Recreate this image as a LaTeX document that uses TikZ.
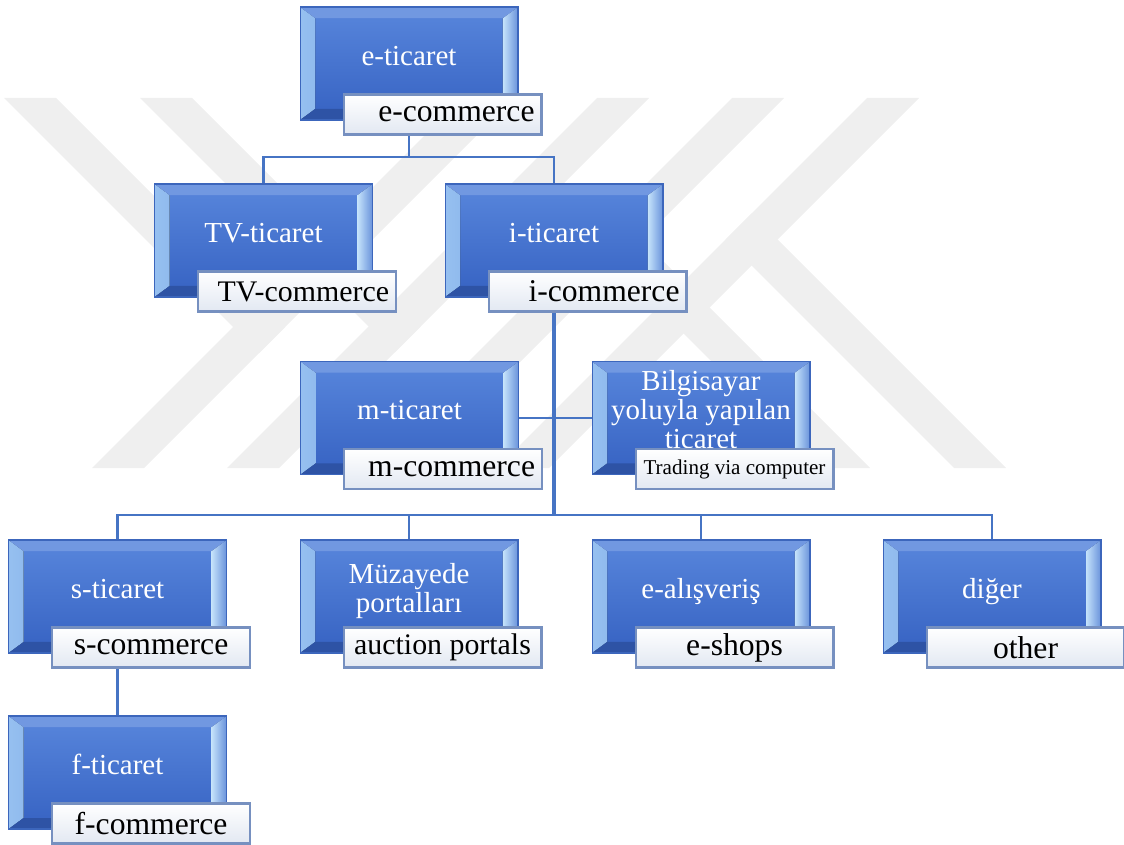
\documentclass[tikz,border=0pt]{standalone}
\usepackage{fontspec}
\setmainfont{Liberation Serif}
\usetikzlibrary{positioning,backgrounds}

\definecolor{faceblue}{RGB}{66,112,206}
\definecolor{facetop}{RGB}{88,134,220}
\definecolor{facebot}{RGB}{54,98,194}
\definecolor{bevlight}{RGB}{150,192,240}
\definecolor{bevright}{RGB}{196,226,250}
\definecolor{edgeblue}{RGB}{60,102,188}
\definecolor{tagedge}{RGB}{118,144,192}
\definecolor{tagbot}{RGB}{226,232,242}
\definecolor{connblue}{RGB}{70,116,196}
\definecolor{wmgray}{RGB}{239,239,239}

\newcommand{\boxfont}{\fontsize{16.5}{16.5}\selectfont}
\newcommand{\tagfont}{\fontsize{18}{20}\selectfont}
\newcommand{\smalltagfont}{\fontsize{17}{19}\selectfont}

\tikzset{tbox/.style = {rectangle, minimum width=4.36cm, minimum height=2.26cm, inner sep=0pt,
    top color=facetop, bottom color=facebot, draw=edgeblue, line width=0.6pt,
    text=white, font=\boxfont, text height=11pt, text depth=9pt,
    path picture={
      \fill[left color=bevlight, right color=faceblue]
        (path picture bounding box.south west) -- (path picture bounding box.north west)
        -- ([shift={(15,11)}]path picture bounding box.north west)
        -- ([shift={(15,-11)}]path picture bounding box.south west) -- cycle;
      \fill[left color=bevright, right color=faceblue!70!bevright]
        (path picture bounding box.south east) -- (path picture bounding box.north east)
        -- ([shift={(-15,11)}]path picture bounding box.north east)
        -- ([shift={(-15,-11)}]path picture bounding box.south east) -- cycle;
      \fill[facetop!85!white]
        (path picture bounding box.north west) -- (path picture bounding box.north east)
        -- ([shift={(-15,11)}]path picture bounding box.north east)
        -- ([shift={(15,11)}]path picture bounding box.north west) -- cycle;
      \fill[facebot!85!black]
        (path picture bounding box.south west) -- (path picture bounding box.south east)
        -- ([shift={(-15,-11)}]path picture bounding box.south east)
        -- ([shift={(15,-11)}]path picture bounding box.south west) -- cycle;
    }}}
\tikzset{tagbox/.style = {rectangle, minimum width=3.96cm, minimum height=0.8cm,
    inner xsep=0.14cm, inner ysep=0pt,
    top color=white, bottom color=tagbot, draw=tagedge, line width=1.2pt,
    font=\tagfont, text=black, anchor=north west}}
\tikzset{tagright/.style = {tagbox, text width=3.68cm, align=right}}
\tikzset{conn/.style = {draw=connblue, line width=1.4pt}}

\begin{document}
\begin{tikzpicture}[x=0.02cm, y=-0.02cm]
  \useasboundingbox (0,0) rectangle (1124,844);

  \node[tbox] (ec) at (409,63.5) {e-ticaret};
  \node[tagright] (ecl) at ([shift={(43,87)}]ec.north west) {e-commerce};

  \node[tbox] (tv) at (263.5,240.5) {TV-ticaret};
  \node[tagright, font=\smalltagfont] (tvl) at ([shift={(43,87)}]tv.north west) {TV-commerce};
  \node[tbox] (ic) at (554,240.5) {i-ticaret};
  \node[tagright] (icl) at ([shift={(43,87)}]ic.north west) {i-commerce};

  \node[tbox] (mc) at (409.5,418) {m-ticaret};
  \node[tagright] (mcl) at ([shift={(43,87)}]mc.north west) {m-commerce};
  \node[tbox, text height=11.5pt, text depth=43pt] (bc) at (701,418)
    {\begin{tabular}[t]{@{}c@{}}Bilgisayar\\yoluyla yapılan\\ticaret\end{tabular}};
  \node[tagbox, font=\fontsize{12}{14}\selectfont]
    (bcl) at ([shift={(43,87)}]bc.north west) {Trading via computer};

  \node[tbox] (sc) at (117.5,596.5) {s-ticaret};
  \node[tagbox] (scl) at ([shift={(43,87)}]sc.north west) {s-commerce};
  \node[tbox, text height=11.5pt, text depth=26pt] (mz) at (409,596.5)
    {\begin{tabular}[t]{@{}c@{}}Müzayede\\portalları\end{tabular}};
  \node[tagbox, font=\smalltagfont] (mzl) at ([shift={(43,87)}]mz.north west) {auction portals};
  \node[tbox] (es) at (701,596.5) {e-alışveriş};
  \node[tagbox] (esl) at ([shift={(43,87)}]es.north west) {e-shops};
  \node[tbox] (dg) at (992,596.5) {diğer};
  \node[tagbox] (dgl) at ([shift={(43,87)}]dg.north west) {other};

  \node[tbox] (fc) at (117.5,772.5) {f-ticaret};
  \node[tagbox] (fcl) at ([shift={(43,87)}]fc.north west) {f-commerce};

  \begin{scope}[on background layer]
    % watermark
    \fill[wmgray] (4,98) -- (56,98) -- (285,327) -- (259,353) -- cycle;
    \fill[wmgray] (140,98) -- (192,98) -- (420.5,326.5) -- (394.5,352.5) -- cycle;
    \fill[wmgray] (462,98) -- (514,98) -- (144,468) -- (92,468) -- cycle;
    \fill[wmgray] (597,98) -- (649,98) -- (279,468) -- (227,468) -- cycle;
    \fill[wmgray] (732,98) -- (784,98) -- (414,468) -- (362,468) -- cycle;
    \fill[wmgray] (867,98) -- (919,98) -- (549,468) -- (497,468) -- cycle;
    \fill[wmgray] (590,240) -- (616,214) -- (870,468) -- (818,468) -- cycle;
    \fill[wmgray] (725.5,239.5) -- (751.5,213.5) -- (1006,468) -- (954,468) -- cycle;

    \coordinate (jtop) at (409,157);
    \coordinate (jmid) at (554,515);
    \draw[conn] (ec.south) -- (jtop);
    \draw[conn] (tv.north) |- (jtop) -| (ic.north);
    \draw[conn, line width=2pt] (ic.south) -- (jmid);
    \draw[conn] (mc.east) -- (bc.west);
    \draw[conn] (sc.north) |- (jmid) -| (dg.north);
    \draw[conn] (mz.north) -- (mz.north |- jmid);
    \draw[conn] (es.north) -- (es.north |- jmid);
    \draw[conn] (sc.south) -- (fc.north);
  \end{scope}
\end{tikzpicture}
\end{document}
